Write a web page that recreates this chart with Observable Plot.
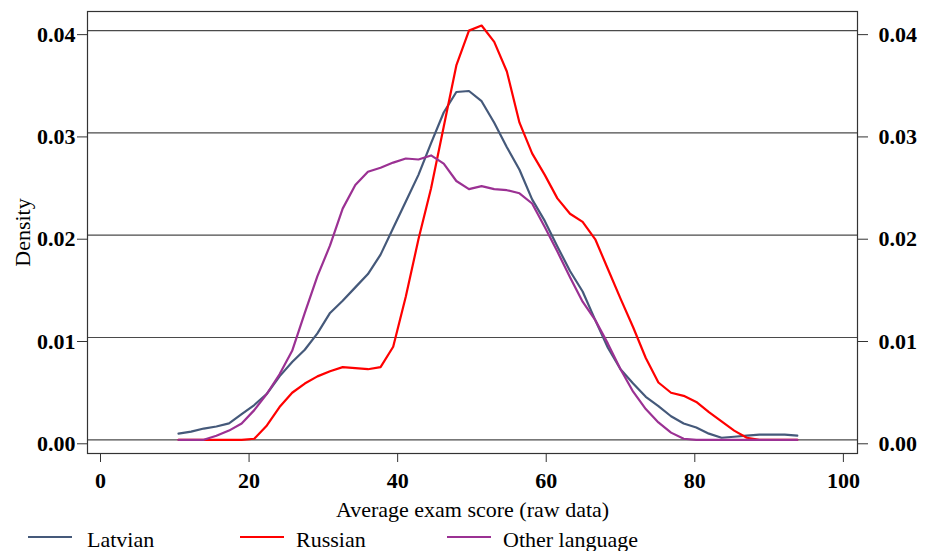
<!DOCTYPE html>
<html><head><meta charset="utf-8">
<script src="https://cdn.jsdelivr.net/npm/d3@7"></script>
<script src="https://cdn.jsdelivr.net/npm/@observablehq/plot@0.6"></script>
<style>
body{margin:0;background:#fff;font-family:"Liberation Serif","Times New Roman",serif;}
#chart{width:925px;height:525px;}
#legend{position:relative;width:925px;height:26px;font-size:22px;color:#000;}
#legend .sw{position:absolute;top:11px;width:44px;height:2px;}
#legend .lb{position:absolute;top:4px;line-height:22px;white-space:nowrap;}
</style></head><body>
<div id="chart"></div>
<div id="legend"></div>
<script>
const scores = [10.5, 12.2, 13.9, 15.6, 17.3, 19.0, 20.7, 22.4, 24.1, 25.8, 27.5, 29.2, 30.9, 32.6, 34.3, 36.0, 37.7, 39.4, 41.1, 42.8, 44.5, 46.2, 47.9, 49.6, 51.3, 53.0, 54.7, 56.4, 58.1, 59.8, 61.5, 63.2, 64.9, 66.6, 68.3, 70.0, 71.7, 73.4, 75.1, 76.8, 78.5, 80.2, 81.9, 83.6, 85.3, 87.0, 88.7, 90.4, 92.1, 93.8];
const latvian = [0.0006, 0.0008, 0.0011, 0.0013, 0.0016, 0.0025, 0.0034, 0.0045, 0.0062, 0.0076, 0.0088, 0.0104, 0.0124, 0.0136, 0.0149, 0.0162, 0.0181, 0.0207, 0.0233, 0.0259, 0.0290, 0.0320, 0.0340, 0.0341, 0.0331, 0.0310, 0.0286, 0.0264, 0.0235, 0.0214, 0.0189, 0.0165, 0.0145, 0.0117, 0.0090, 0.0069, 0.0055, 0.0042, 0.0033, 0.0023, 0.0016, 0.0012, 0.0006, 0.0002, 0.0003, 0.0004, 0.0005, 0.0005, 0.0005, 0.0004];
const russian = [0, 0, 0, 0, 0, 0, 0.0001, 0.0014, 0.0032, 0.0046, 0.0055, 0.0062, 0.0067, 0.0071, 0.0070, 0.0069, 0.0071, 0.0091, 0.0140, 0.0196, 0.0246, 0.0306, 0.0366, 0.0400, 0.0405, 0.0389, 0.0360, 0.0310, 0.0280, 0.0259, 0.0236, 0.0221, 0.0213, 0.0196, 0.0167, 0.0138, 0.0110, 0.0080, 0.0056, 0.0046, 0.0043, 0.0037, 0.0027, 0.0018, 0.0009, 0.0002, 0, 0, 0, 0];
const otherLanguage = [0, 0, 0, 0.0004, 0.0009, 0.0016, 0.0029, 0.0045, 0.0064, 0.0087, 0.0124, 0.0160, 0.0190, 0.0226, 0.0249, 0.0262, 0.0266, 0.0271, 0.0275, 0.0274, 0.0278, 0.0270, 0.0253, 0.0245, 0.0248, 0.0245, 0.0244, 0.0241, 0.0231, 0.0208, 0.0184, 0.0159, 0.0135, 0.0117, 0.0094, 0.0069, 0.0047, 0.0030, 0.0017, 0.0007, 0.0001, 0, 0, 0, 0, 0, 0, 0, 0, 0];
const seriesNames = ["Latvian", "Russian", "Other language"];
const seriesColors = ["#45597a", "#ff0000", "#9b3193"];
const yTicks = [0, 0.01, 0.02, 0.03, 0.04];
const xTicks = [0, 20, 40, 60, 80, 100];
const xTitle = "Average exam score (raw data)";
const yTitle = "Density";

const seriesValues = [latvian, russian, otherLanguage];
const rows = [];
seriesNames.forEach((name, s) => {
  scores.forEach((x, i) => rows.push({score: x, density: seriesValues[s][i], lang: name}));
});

const fmt = d3.format(".2f");
const plot = Plot.plot({
  width: 925, height: 525,
  marginLeft: 87, marginRight: 68, marginTop: 11, marginBottom: 72,
  style: {fontFamily: '"Liberation Serif","Times New Roman",serif', fontSize: "22px", fontWeight: "bold", color: "#000", background: "#fff"},
  x: {domain: [-1.75, 101.9]},
  y: {domain: [-0.00134, 0.04187]},
  color: {domain: seriesNames, range: seriesColors},
  marks: [
    Plot.gridY(yTicks, {stroke: "#4a4a4a", strokeOpacity: 1, strokeWidth: 1.2}),
    Plot.frame({stroke: "#333", strokeWidth: 1.2}),
    Plot.axisY(yTicks, {anchor: "left", tickSize: 10, tickPadding: 2, tickFormat: fmt, label: null, dy: 4, stroke: "#333"}),
    Plot.axisY(yTicks, {anchor: "right", tickSize: 10, tickPadding: 11, tickFormat: fmt, label: null, dy: 4, stroke: "#333"}),
    Plot.axisX(xTicks, {anchor: "bottom", tickSize: 9, tickPadding: 10, label: null, stroke: "#333"}),
    Plot.line(rows, {x: "score", y: "density", z: "lang", stroke: "lang", strokeWidth: 2.2}),
    Plot.text([xTitle], {text: d => d, frameAnchor: "bottom", lineAnchor: "middle", dy: 56, fontSize: 22, fontWeight: "normal"}),
    Plot.text([yTitle], {text: d => d, frameAnchor: "left", textAnchor: "middle", lineAnchor: "middle", dx: -65, rotate: -90, fontSize: 22, fontWeight: "normal"})
  ]
});
document.getElementById("chart").appendChild(plot);

const legend = document.getElementById("legend");
const swLeft = [28, 240, 447];
const lbLeft = [87, 296, 503];
seriesNames.forEach((name, i) => {
  const sw = document.createElement("span");
  sw.className = "sw"; sw.style.left = swLeft[i] + "px"; sw.style.background = seriesColors[i];
  const lb = document.createElement("span");
  lb.className = "lb"; lb.style.left = lbLeft[i] + "px"; lb.textContent = name;
  legend.appendChild(sw); legend.appendChild(lb);
});
</script>
</body></html>
